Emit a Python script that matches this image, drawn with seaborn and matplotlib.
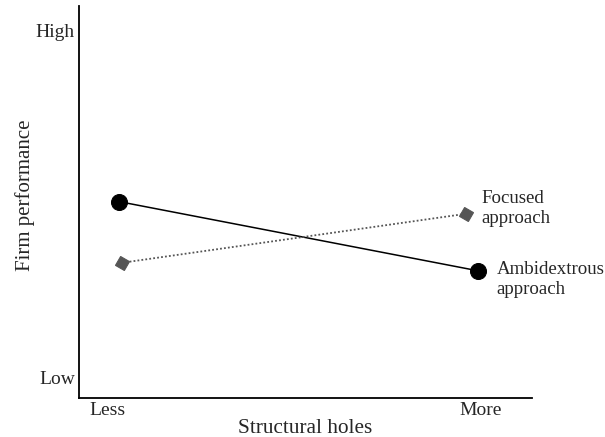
import matplotlib
matplotlib.use("Agg")
import matplotlib.pyplot as plt
import pandas as pd
import seaborn as sns

# data (x: 0 = less, 1 = more structural holes; y: 0 = low, 1 = high performance)
ambi_x = [0.0, 1.0]
ambi_y = [0.507, 0.308]
focus_x = [0.008, 0.967]
focus_y = [0.331, 0.472]
x_ticks = [-0.031, 1.008]
x_labels = ["Less", "More"]
y_ticks = [0.0, 1.0]
y_labels = ["Low", "High"]

sns.set_style("white")
plt.rcParams["font.family"] = ["Liberation Serif", "DejaVu Serif"]

fig = plt.figure(figsize=(6.05, 4.37), dpi=100)
ax = fig.add_axes([79 / 605, 1 - 398 / 437, (532 - 79) / 605, (398 - 6) / 437])

ambi = pd.DataFrame({"x": ambi_x, "y": ambi_y})
focus = pd.DataFrame({"x": focus_x, "y": focus_y})

sns.lineplot(data=ambi, x="x", y="y", ax=ax, color="black", linewidth=1.1,
             marker="o", markersize=11.5, markeredgecolor="black")
sns.lineplot(data=focus, x="x", y="y", ax=ax, color="#555555", linewidth=1.3,
             linestyle=(0, (1, 1.2)), marker=(4, 0, 15), markersize=10.5,
             markeredgecolor="#555555")

ax.text(1.008, 0.486, "Focused\napproach", fontsize=13.6, ha="left", va="center",
        linespacing=1.22)
ax.text(1.052, 0.283, "Ambidextrous\napproach", fontsize=13.6, ha="left", va="center",
        linespacing=1.22)

ax.set_xlim(-0.111, 1.150)
ax.set_ylim(-0.0575, 1.069)
ax.set_xticks(x_ticks)
ax.set_xticklabels(x_labels, fontsize=14)
ax.set_yticks(y_ticks)
ax.set_yticklabels(y_labels, fontsize=14)
ax.tick_params(length=0, pad=3)
ax.set_xlabel("Structural holes", fontsize=15.3, labelpad=0)
ax.set_ylabel("Firm performance", fontsize=15)
ax.yaxis.set_label_coords(-0.098, 0.518)

sns.despine(ax=ax)
for s in ["left", "bottom"]:
    ax.spines[s].set_color("black")
    ax.spines[s].set_linewidth(1.3)

fig.savefig("out.png", dpi=100)
